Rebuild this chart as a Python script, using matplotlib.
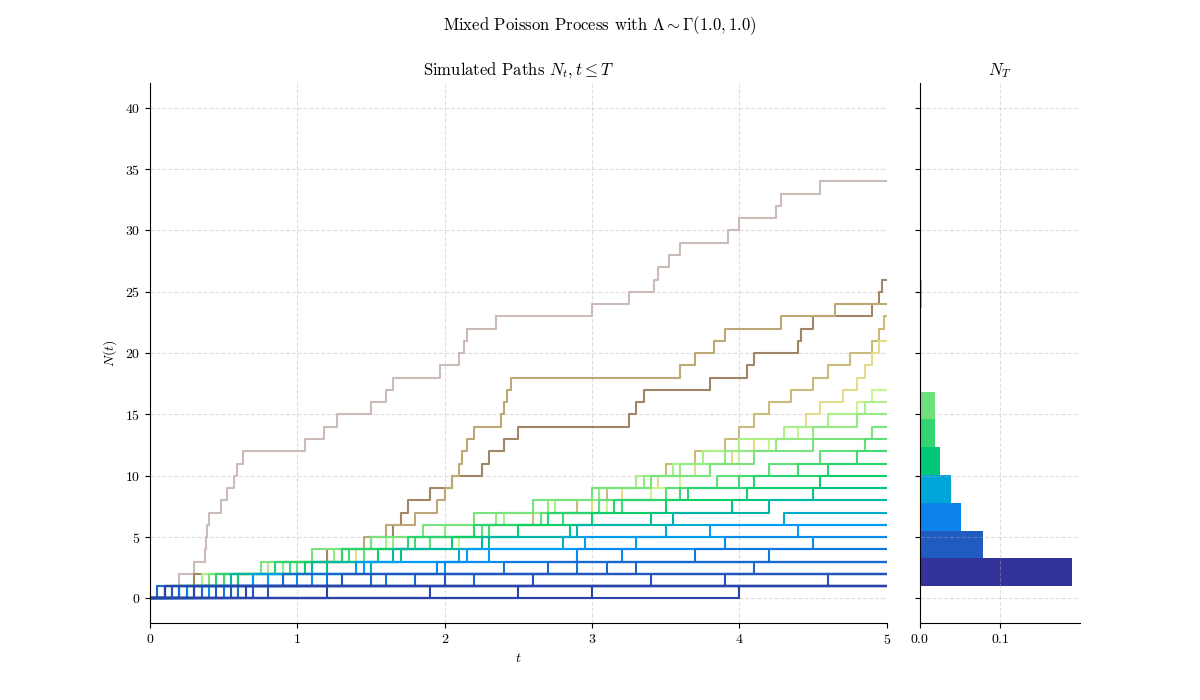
import numpy as np
import matplotlib.pyplot as plt
import matplotlib as mpl

plt.rcParams['font.family'] = 'serif'
plt.rcParams['font.serif'] = ['cmr10']
plt.rcParams['mathtext.fontset'] = 'cm'
plt.rcParams['axes.formatter.use_mathtext'] = True

T = 5.0
# jump times of each simulated path
paths = [
    [0.05, 0.2, 0.3, 0.37, 0.38, 0.39, 0.4, 0.48, 0.52, 0.57, 0.59, 0.63, 1.05, 1.18, 1.27,
     1.5, 1.6, 1.65, 1.97, 2.1, 2.13, 2.15, 2.35, 3.0, 3.25, 3.42, 3.45, 3.52, 3.6, 3.92, 4.0, 4.25, 4.28, 4.55],
    [0.1, 0.3, 0.8, 1.2, 1.5, 1.65, 1.7, 1.75, 1.9, 2.05, 2.25, 2.3, 2.4, 2.5, 3.25,
     3.3, 3.35, 3.8, 4.05, 4.1, 4.4, 4.42, 4.5, 4.9, 4.95, 4.97],
    [0.2, 0.45, 0.9, 1.3, 1.45, 1.6, 1.8, 1.95, 2.0, 2.05, 2.1, 2.12, 2.15, 2.2, 2.38, 2.4,
     2.42, 2.45, 3.6, 3.7, 3.83, 3.9, 4.28, 4.65],
    [0.3, 0.7, 1.1, 1.55, 1.9, 2.3, 2.6, 2.9, 3.1, 3.3, 3.5, 3.7, 3.9, 4.0, 4.1, 4.2, 4.35,
     4.5, 4.6, 4.75, 4.9, 4.95, 4.98],
    [0.15, 0.5, 1.0, 1.4, 1.8, 2.2, 2.7, 3.0, 3.2, 3.45, 3.7, 3.95, 4.1, 4.3, 4.45, 4.55, 4.7,
     4.8, 4.85, 4.9, 4.95],
    [0.25, 0.6, 1.2, 1.7, 2.1, 2.5, 2.8, 3.1, 3.4, 3.6, 3.8, 4.0, 4.2, 4.4, 4.6, 4.8, 4.9],
    [0.1, 0.35, 0.8, 1.3, 1.6, 2.0, 2.4, 2.75, 3.0, 3.3, 3.55, 3.75, 4.0, 4.3, 4.6, 4.85],
    [0.2, 0.55, 0.9, 1.25, 1.65, 2.0, 2.35, 2.7, 3.05, 3.35, 3.6, 3.9, 4.25, 4.5, 4.8],
    [0.05, 0.4, 0.75, 1.1, 1.5, 1.85, 2.2, 2.6, 3.0, 3.4, 3.8, 4.1, 4.5, 4.9],
    [0.3, 0.6, 1.0, 1.45, 1.9, 2.25, 2.65, 3.05, 3.5, 3.85, 4.2, 4.55, 4.85],
    [0.15, 0.5, 0.95, 1.35, 1.8, 2.3, 2.8, 3.2, 3.6, 4.0, 4.4, 4.8],
    [0.1, 0.45, 0.85, 1.3, 1.75, 2.2, 2.7, 3.15, 3.65, 4.1, 4.6],
    [0.2, 0.6, 1.05, 1.55, 2.05, 2.5, 3.0, 3.5, 4.05, 4.55],
    [0.25, 0.7, 1.2, 1.7, 2.3, 2.85, 3.4, 3.95, 4.5],
    [0.1, 0.55, 1.1, 1.65, 2.25, 2.9, 3.55, 4.2],
    [0.35, 0.9, 1.5, 2.1, 2.8, 3.5, 4.3],
    [0.2, 0.8, 1.45, 2.15, 2.95, 3.8],
    [0.15, 0.7, 1.4, 2.3, 3.3, 4.4],
    [0.4, 1.1, 1.95, 2.9, 3.9],
    [0.3, 1.0, 2.0, 3.2, 4.5],
    [0.25, 1.2, 2.4, 3.7],
    [0.5, 1.6, 2.9, 4.2],
    [0.6, 1.8, 3.3],
    [0.2, 1.5, 3.1],
    [0.35, 2.2, 4.1],
    [0.05, 0.9, 2.7],
    [0.45, 2.6],
    [0.8, 3.4],
    [0.15, 2.0],
    [0.7, 3.9],
    [0.1, 1.3],
    [0.55, 4.6],
    [1.2],
    [0.3],
    [2.5],
    [0.1],
    [4.0],
    [0.65],
    [1.9],
    [3.0],
]

# histogram of N_T
bin_edges = np.linspace(1, 35, 16)
bin_density = [0.19, 0.079, 0.051, 0.039, 0.025, 0.019, 0.019, 0.001, 0.0,
               0.0008, 0.002, 0.0, 0.0, 0.0, 0.001]

cmap = plt.get_cmap('terrain')
norm = mpl.colors.Normalize(vmin=0, vmax=38)

fig = plt.figure(figsize=(12, 7), dpi=100)
ax = fig.add_axes([0.125, 0.11, 0.614, 0.771])
axh = fig.add_axes([0.7667, 0.11, 0.1333, 0.771], sharey=ax)

for jumps in paths:
    t = np.concatenate([[0.0], jumps, [T]])
    n = np.concatenate([np.arange(len(jumps) + 1), [len(jumps)]])
    ax.step(t, n, where='post', color=cmap(norm(len(jumps))), lw=1.5)

ax.set_xlim(0, T)
ax.set_ylim(-2, 42)
ax.set_xlabel('$t$')
ax.set_ylabel('$N(t)$')
ax.set_title('Simulated Paths $N_t, t \\leq T$')
ax.grid(True, ls='--', alpha=0.4)

axh.barh(bin_edges[:-1], bin_density, height=np.diff(bin_edges), align='edge',
         color=[cmap(norm(e - 1)) for e in bin_edges[:-1]])
axh.set_title('$N_T$')
axh.set_xticks([0.0, 0.1])
axh.set_xlim(0, 0.2)
axh.tick_params(labelleft=False)
axh.grid(True, ls='--', alpha=0.4)

for a in (ax, axh):
    a.spines['top'].set_visible(False)
    a.spines['right'].set_visible(False)

fig.suptitle('Mixed Poisson Process with $\\Lambda \\sim \\Gamma(1.0, 1.0)$')
fig.savefig('out.png')
